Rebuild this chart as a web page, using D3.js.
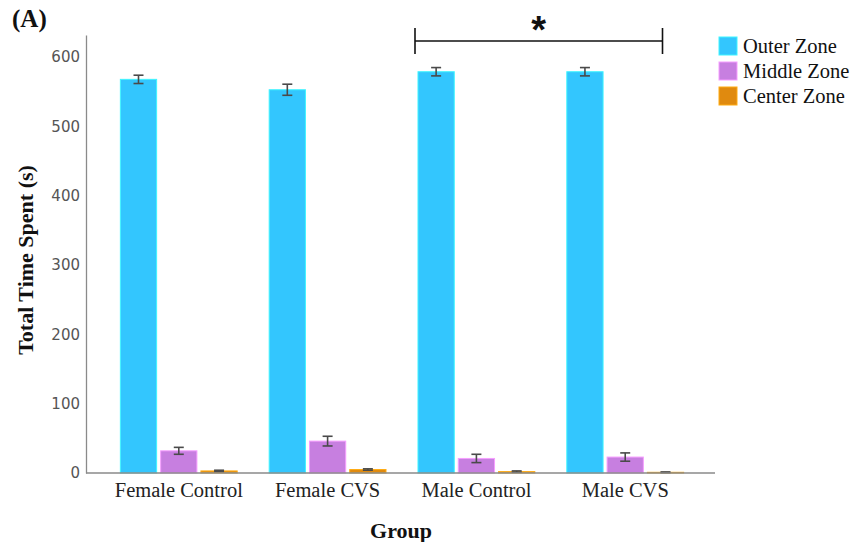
<!DOCTYPE html>
<html>
<head>
<meta charset="utf-8">
<script src="https://cdn.jsdelivr.net/npm/d3@7"></script>
<style>
  html, body { margin: 0; padding: 0; background: #fff; }
  svg { display: block; }
</style>
</head>
<body>
<svg id="chart" width="853" height="542"></svg>
<script>
// Groups and zones
const groups = ["Female Control", "Female CVS", "Male Control", "Male CVS"];
const zones = ["Outer Zone", "Middle Zone", "Center Zone"];
const zoneColors = ["#33c6fe", "#c77fe0", "#e08a0f"];

// Mean time spent (s) per zone, one entry per group
const outerMeans  = [568, 553, 579, 579];
const middleMeans = [32, 46, 21, 23];
const centerMeans = [3, 5, 2, 1];
// Standard errors
const outerErr  = [6, 8, 6, 6];
const middleErr = [5, 7, 6, 6];
const centerErr = [1, 1, 1, 0.5];

const yTicks = [0, 100, 200, 300, 400, 500, 600];

const means = [outerMeans, middleMeans, centerMeans];
const errs = [outerErr, middleErr, centerErr];

const svg = d3.select("#chart");
const serif = "'Liberation Serif', 'Times New Roman', serif";
const sans = "'DejaVu Sans', Verdana, sans-serif";

const x0 = d3.scaleBand().domain(groups).range([104, 700]).paddingInner(0.215).paddingOuter(0.11);
const x1 = d3.scaleBand().domain(zones).range([0, x0.bandwidth()]).paddingInner(0.1);
const y = d3.scaleLinear().domain([0, 632]).range([473, 35]);

// Bars
const rows = [];
groups.forEach((g, gi) => zones.forEach((z, zi) => {
  rows.push({ g, z, zi, v: means[zi][gi], e: errs[zi][gi] });
}));

svg.append("g").selectAll("rect").data(rows).join("rect")
  .attr("x", d => x0(d.g) + x1(d.z))
  .attr("y", d => y(d.v))
  .attr("width", x1.bandwidth())
  .attr("height", d => y(0) - y(d.v))
  .attr("fill", d => zoneColors[d.zi])
  .attr("stroke", d => d3.color(zoneColors[d.zi]).brighter(0.6))
  .attr("stroke-width", 1);

// Error bars
const eb = svg.append("g").attr("stroke", "#4a4a4a").attr("stroke-width", 1.6).attr("fill", "none");
rows.forEach(d => {
  const cx = x0(d.g) + x1(d.z) + x1.bandwidth() / 2;
  const lo = y(Math.max(0, d.v - d.e)), hi = y(d.v + d.e);
  eb.append("line").attr("x1", cx).attr("x2", cx).attr("y1", lo).attr("y2", hi);
  eb.append("line").attr("x1", cx - 5).attr("x2", cx + 5).attr("y1", lo).attr("y2", lo);
  eb.append("line").attr("x1", cx - 5).attr("x2", cx + 5).attr("y1", hi).attr("y2", hi);
});

// Y axis
const yAxis = svg.append("g").attr("transform", "translate(86,0)")
  .call(d3.axisLeft(y).tickValues(yTicks).tickSize(0).tickPadding(6));
yAxis.select(".domain").attr("stroke", "#8a8a8a").attr("stroke-width", 1.3);
yAxis.selectAll("text").attr("font-family", sans).attr("font-size", 15).attr("fill", "#555");

// X axis
svg.append("line").attr("x1", 86).attr("x2", 715).attr("y1", 473).attr("y2", 473)
  .attr("stroke", "#8a8a8a").attr("stroke-width", 1.3);
const xAxis = svg.append("g").attr("transform", "translate(0,473)")
  .call(d3.axisBottom(x0).tickSize(0).tickPadding(9));
xAxis.select(".domain").remove();
xAxis.selectAll("text").attr("font-family", serif).attr("font-size", 20.5).attr("fill", "#222");

// Axis titles
svg.append("text").attr("x", 401).attr("y", 538).attr("text-anchor", "middle")
  .attr("font-family", serif).attr("font-weight", "bold").attr("font-size", 22).attr("fill", "#111")
  .text("Group");
svg.append("text").attr("transform", "translate(33,260) rotate(-90)").attr("text-anchor", "middle")
  .attr("font-family", serif).attr("font-weight", "bold").attr("font-size", 22).attr("fill", "#111")
  .text("Total Time Spent (s)");

// Panel label
svg.append("text").attr("x", 12).attr("y", 27)
  .attr("font-family", serif).attr("font-weight", "bold").attr("font-size", 25).attr("fill", "#111")
  .text("(A)");

// Significance bracket between male groups
const bx1 = x0("Male Control") + x1("Outer Zone") - 3;
const bx2 = x0("Male CVS") + x1("Center Zone") + x1.bandwidth() / 2 - 3;
const br = svg.append("g").attr("stroke", "#111").attr("stroke-width", 1.6);
br.append("line").attr("x1", bx1).attr("x2", bx2).attr("y1", 41).attr("y2", 41);
br.append("line").attr("x1", bx1).attr("x2", bx1).attr("y1", 28).attr("y2", 54);
br.append("line").attr("x1", bx2).attr("x2", bx2).attr("y1", 28).attr("y2", 54);
svg.append("text").attr("x", (bx1 + bx2) / 2).attr("y", 43).attr("text-anchor", "middle")
  .attr("font-family", "'Liberation Sans', Arial, sans-serif").attr("font-weight", "bold")
  .attr("font-size", 38).attr("fill", "#111")
  .text("*");

// Legend
const lg = svg.append("g").attr("transform", "translate(719,37)");
zones.forEach((z, i) => {
  const row = lg.append("g").attr("transform", `translate(0,${i * 25})`);
  row.append("rect").attr("width", 18).attr("height", 18).attr("fill", zoneColors[i])
    .attr("stroke", d3.color(zoneColors[i]).brighter(0.6));
  row.append("text").attr("x", 24).attr("y", 16).attr("font-family", serif)
    .attr("font-size", 20.5).attr("fill", "#111").text(z);
});
</script>
</body>
</html>
